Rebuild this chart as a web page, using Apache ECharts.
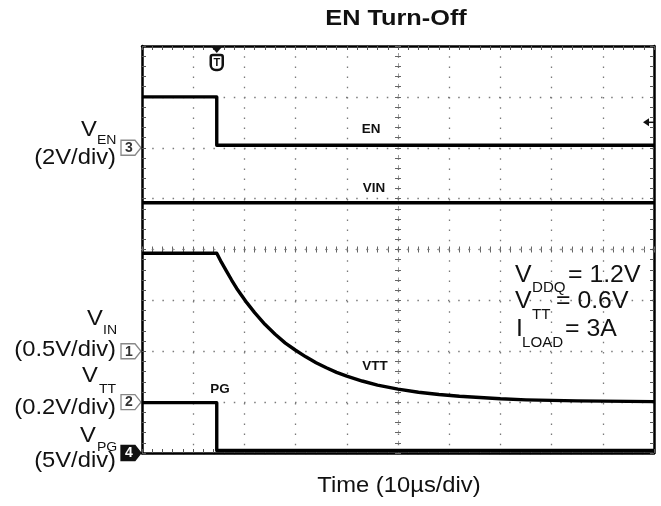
<!DOCTYPE html>
<html><head><meta charset="utf-8">
<script src="https://cdn.jsdelivr.net/npm/echarts@6/dist/echarts.min.js"></script>
<style>html,body{margin:0;padding:0;background:#fff}#c{width:661px;height:506px}</style>
</head><body><div id="c"></div>
<script>
// ---- data (time in µs, 10 µs/div; values in volts) ----
const enTime   = [0, 14.6, 14.6, 100];
const enVolts  = [2.0, 2.0, 0.1, 0.1];
const vinTime  = [0, 100];
const vinVolts = [1.46, 1.46];
const vttTime  = [0, 14.6, 15.5, 16.5, 17.5, 18.5, 19.5, 20.5, 22, 24, 26, 28, 30, 32, 34, 36, 38, 40, 43, 46, 50, 54, 58, 62, 66, 70, 75, 80, 85, 90, 95, 100];
const vttVolts = [0.585, 0.585, 0.55, 0.515, 0.48, 0.447, 0.418, 0.39, 0.352, 0.306, 0.267, 0.232, 0.204, 0.178, 0.155, 0.135, 0.117, 0.102, 0.083, 0.067, 0.051, 0.039, 0.030, 0.023, 0.018, 0.013, 0.009, 0.007, 0.005, 0.004, 0.003, 0.002];
const pgTime   = [0, 14.6, 14.6, 100];
const pgVolts  = [4.95, 4.95, 0.25, 0.25];
const triggerTime = 14.6;
const enTriggerLevel = 1.0;
// channel scales: [min, max] so each ground sits on its marker (8 divisions tall)
const enRange  = [-12, 4];   // 2 V/div, ground at div 6
const vinRange = [-1, 3];    // 0.5 V/div, ground at div 2
const vttRange = [-0.2, 1.4];// 0.2 V/div, ground at div 1
const pgRange  = [0, 40];    // 5 V/div, ground at div 0

const FONT = 'Liberation Sans, Arial, sans-serif';
const chart = echarts.init(document.getElementById('c'), null, {renderer: 'canvas'});
const dotted = {color: '#7a7a7a', width: 1.3, type: [1.5, 8.7]};
const tickStyle = {color: '#555', width: 1};

function frameX(pos, split) {
  return {type: 'value', min: 0, max: 100, interval: 10, position: pos,
    axisLine: {show: true, onZero: false, lineStyle: {color: '#000', width: 2.5}},
    axisTick: {show: true, inside: true, length: 4, lineStyle: tickStyle},
    minorTick: {show: true, splitNumber: 5, length: 4, lineStyle: tickStyle},
    axisLabel: {show: false},
    splitLine: {show: split, lineStyle: dotted}};
}
function frameY(pos, split) {
  return {type: 'value', min: 0, max: 8, interval: 1, position: pos,
    axisLine: {show: true, onZero: false, lineStyle: {color: '#000', width: 2.5}},
    axisTick: {show: true, inside: true, length: 4, lineStyle: tickStyle},
    minorTick: {show: true, splitNumber: 5, length: 4, lineStyle: tickStyle},
    axisLabel: {show: false},
    splitLine: {show: split, lineStyle: dotted}};
}
function centerX(inside) {
  return {type: 'value', min: -50, max: 50, interval: 10, position: 'bottom',
    axisLine: {show: true, onZero: true, onZeroAxisIndex: 2, lineStyle: {color: '#999', width: 1, type: [1.5, 8.7]}},
    axisTick: {show: true, inside: inside, length: 3, lineStyle: {color: '#666'}},
    minorTick: {show: true, splitNumber: 5, length: 3, lineStyle: {color: '#666'}},
    axisLabel: {show: false}, splitLine: {show: false}};
}
function centerY(inside) {
  return {type: 'value', min: -4, max: 4, interval: 1, position: 'left',
    axisLine: {show: true, onZero: true, onZeroAxisIndex: 2, lineStyle: {color: '#999', width: 1, type: [1.5, 8.7]}},
    axisTick: {show: true, inside: inside, length: 3, lineStyle: {color: '#666'}},
    minorTick: {show: true, splitNumber: 5, length: 3, lineStyle: {color: '#666'}},
    axisLabel: {show: false}, splitLine: {show: false}};
}
function hiddenY(r) {
  return {type: 'value', min: r[0], max: r[1], show: false, axisLine: {onZero: false}};
}

function trace(times, volts, yIdx) {
  return {type: 'line', xAxisIndex: 0, yAxisIndex: yIdx,
    data: times.map((t, i) => [t, volts[i]]), showSymbol: false, symbol: 'none',
    lineStyle: {color: '#000', width: 3.4, join: 'round'}, z: 10, animation: false};
}

chart.setOption({
  animation: false,
  backgroundColor: '#fff',
  grid: {left: 142, top: 46, right: 7, bottom: 53, containLabel: false},
  xAxis: [frameX('bottom', true), frameX('top', false), centerX(true), centerX(false)],
  yAxis: [frameY('left', true), frameY('right', false), centerY(true), centerY(false),
          hiddenY(enRange), hiddenY(vinRange), hiddenY(vttRange), hiddenY(pgRange)],
  series: [
    trace(enTime, enVolts, 4),
    trace(vinTime, vinVolts, 5),
    trace(vttTime, vttVolts, 6),
    trace(pgTime, pgVolts, 7)
  ]
});

// ---- decorations ----
const yOf = (yi, v) => chart.convertToPixel({xAxisIndex: 0, yAxisIndex: yi}, [0, v])[1];
const xOf = (t) => chart.convertToPixel({xAxisIndex: 0, yAxisIndex: 0}, [t, 0])[0];
const gx0 = xOf(0), gx1 = xOf(100), gy0 = yOf(0, 8), gy1 = yOf(0, 0);

function marker(label, y, dark) {
  const l = gx0 - 21, r = gx0 - 7, tip = gx0 - 1;
  return {type: 'group', z: 50, children: [
    {type: 'polygon', shape: {points: [[l, y - 7.5], [r, y - 7.5], [tip, y], [r, y + 7.5], [l, y + 7.5]]},
     style: {fill: dark ? '#111' : '#fff', stroke: dark ? '#111' : '#888', lineWidth: 1.3}},
    {type: 'text', x: l + 8, y: y + 0.5, style: {text: label, fill: dark ? '#fff' : '#333',
     font: 'bold 14px ' + FONT, align: 'center', verticalAlign: 'middle'}}
  ]};
}
function txt(s, x, y, size, align, weight, sx) {
  return {type: 'text', x: x, y: y, z: 60, scaleX: sx || 1.08, style: {text: s, fill: '#111',
    font: (weight || 'normal') + ' ' + size + 'px ' + FONT, align: align || 'left', verticalAlign: 'middle'}};
}
const tx = xOf(triggerTime);
const ty = yOf(4, enTriggerLevel);
const elements = [
  txt('EN Turn-Off', 396, 19, 22, 'center', 'bold', 1.15),
  txt('Time (10µs/div)', 399, 486, 22, 'center', 'normal', 1.08),
  // left channel labels
  txt('V', 81, 130, 22), txt('EN', 97, 140, 13), txt('(2V/div)', 116, 158, 22, 'right'),
  txt('V', 87, 319, 22), txt('IN', 103, 330, 13), txt('(0.5V/div)', 116, 350, 22, 'right'),
  txt('V', 82, 376, 22), txt('TT', 99, 389, 13), txt('(0.2V/div)', 116, 408, 22, 'right'),
  txt('V', 80, 436, 22), txt('PG', 97, 447, 13), txt('(5V/div)', 116, 461, 22, 'right'),
  // right conditions
  txt('V', 515, 276, 23), txt('DDQ', 532, 288, 14), txt('= 1.2V', 568, 276, 23),
  txt('V', 515, 302, 23), txt('TT', 532, 315, 14), txt('= 0.6V', 556, 302, 23),
  txt('I', 516, 330, 23), txt('LOAD', 522, 343, 14), txt('= 3A', 565, 330, 23),
  // trace labels
  txt('EN', 371, 130, 12, 'center', 'bold', 1.12),
  txt('VIN', 374, 189, 12, 'center', 'bold', 1.12),
  txt('VTT', 375, 367, 12, 'center', 'bold', 1.12),
  txt('PG', 220, 390, 12, 'center', 'bold', 1.12),
  // channel ground markers
  marker('3', yOf(4, 0), false),
  marker('1', yOf(5, 0), false),
  marker('2', yOf(6, 0), false),
  marker('4', yOf(7, 0), true),
  // trigger position marker
  {type: 'polygon', z: 50, shape: {points: [[tx - 6, gy0], [tx + 6, gy0], [tx, gy0 + 7]]}, style: {fill: '#111'}},
  {type: 'rect', z: 50, shape: {x: tx - 6, y: gy0 + 9, width: 12, height: 15, r: [2, 2, 5, 5]}, style: {fill: '#fff', stroke: '#111', lineWidth: 2.5}},
  {type: 'text', z: 51, x: tx, y: gy0 + 16.5, style: {text: 'T', font: 'bold 11px ' + FONT, fill: '#111', align: 'center', verticalAlign: 'middle'}},
  // trigger level marker
  {type: 'polygon', z: 50, shape: {points: [[gx1 - 11, ty], [gx1 - 5, ty - 4], [gx1 - 5, ty + 4]]}, style: {fill: '#111'}},
  {type: 'line', z: 50, shape: {x1: gx1 - 6, y1: ty, x2: gx1, y2: ty}, style: {stroke: '#111', lineWidth: 1.5}}
];
chart.setOption({graphic: {elements: elements}});
</script>
</body></html>
